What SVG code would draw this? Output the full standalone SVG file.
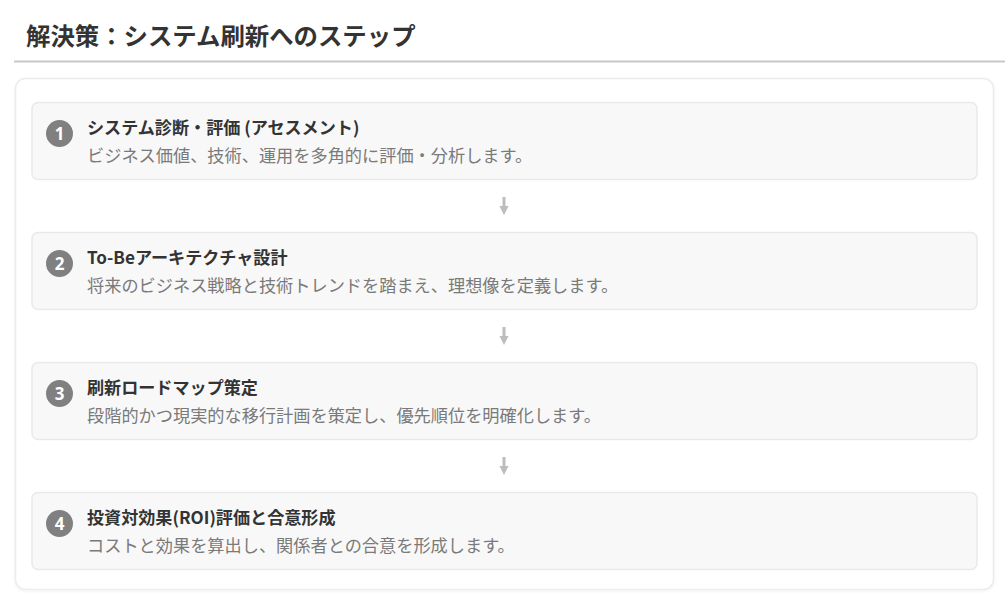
<svg xmlns="http://www.w3.org/2000/svg" width="1005" height="612" viewBox="0 0 1005 612">
<defs>
<style>
.h{font-family:"Noto Sans CJK JP","Noto Sans",sans-serif;font-size:24.4px;font-weight:700;fill:#333}
.t{font-family:"Noto Sans CJK JP","Noto Sans",sans-serif;font-size:17.1px;font-weight:700;fill:#333}
.d{font-family:"Noto Sans CJK JP","Noto Sans",sans-serif;font-size:17.2px;font-weight:400;fill:#7a7a7a}
.n{font-family:"Noto Sans","Noto Sans CJK JP",sans-serif;font-size:17px;font-weight:700;fill:#fff;text-anchor:middle}
.box{fill:#f8f8f8;stroke:#e9e9e9;stroke-width:1.5}
.badge{fill:#808080}
.arr{fill:#bdbdbd}
</style>
<filter id="sh" x="-5%" y="-5%" width="110%" height="110%">
<feDropShadow dx="0" dy="1" stdDeviation="1.5" flood-color="#000" flood-opacity="0.06"/>
</filter>
<path id="arrow" d="M-1.5,-9 H1.5 V0 H4.5 L0,9 L-4.5,0 H-1.5 Z"/>
</defs>
<rect width="1005" height="612" fill="#fff"/>
<g id="header">
<text class="h" x="26" y="45">解決策：システム刷新へのステップ</text>
<rect x="14" y="60.5" width="991" height="2" fill="#c8c8c8"/>
</g>
<rect id="card" x="15.5" y="78.5" width="978" height="511" rx="10" fill="#fff" stroke="#ececec" stroke-width="1.5" filter="url(#sh)"/>
<g id="connectors">
<use href="#arrow" class="arr" x="504" y="206"/>
<use href="#arrow" class="arr" x="504" y="336"/>
<use href="#arrow" class="arr" x="504" y="466"/>
</g>
<g id="step1">
<rect class="box" x="32" y="102.5" width="945" height="77" rx="6"/>
<circle class="badge" cx="59.5" cy="133.5" r="13.5"/>
<text class="n" x="59.5" y="139.5">1</text>
<text class="t" x="87" y="134">システム診断・評価 (アセスメント)</text>
<text class="d" x="87" y="162">ビジネス価値、技術、運用を多角的に評価・分析します。</text>
</g>
<g id="step2">
<rect class="box" x="32" y="232.5" width="945" height="77" rx="6"/>
<circle class="badge" cx="59.5" cy="263.5" r="13.5"/>
<text class="n" x="59.5" y="269.5">2</text>
<text class="t" x="87" y="264">To-Beアーキテクチャ設計</text>
<text class="d" x="87" y="292">将来のビジネス戦略と技術トレンドを踏まえ、理想像を定義します。</text>
</g>
<g id="step3">
<rect class="box" x="32" y="362.5" width="945" height="77" rx="6"/>
<circle class="badge" cx="59.5" cy="393.5" r="13.5"/>
<text class="n" x="59.5" y="399.5">3</text>
<text class="t" x="87" y="394">刷新ロードマップ策定</text>
<text class="d" x="87" y="422">段階的かつ現実的な移行計画を策定し、優先順位を明確化します。</text>
</g>
<g id="step4">
<rect class="box" x="32" y="492.5" width="945" height="77" rx="6"/>
<circle class="badge" cx="59.5" cy="523.5" r="13.5"/>
<text class="n" x="59.5" y="529.5">4</text>
<text class="t" x="87" y="524">投資対効果(ROI)評価と合意形成</text>
<text class="d" x="87" y="552">コストと効果を算出し、関係者との合意を形成します。</text>
</g>
</svg>
